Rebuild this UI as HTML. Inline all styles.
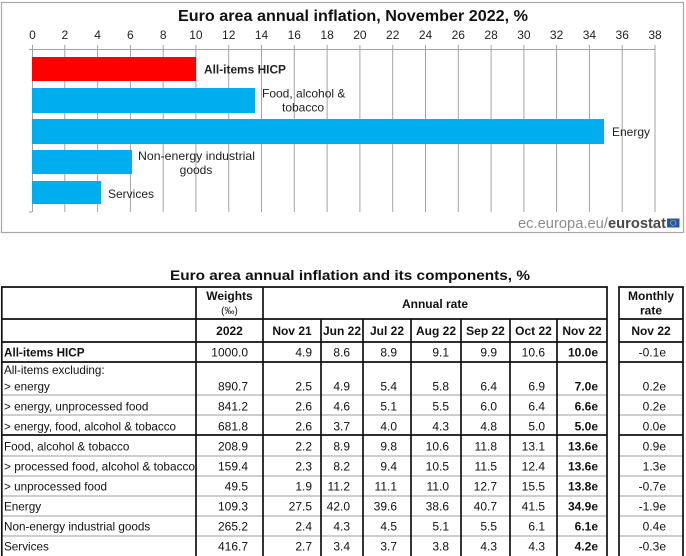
<!DOCTYPE html>
<html><head><meta charset="utf-8"><style>
html,body{margin:0;padding:0;background:#fff;width:686px;height:556px;overflow:hidden}
svg{display:block}
text{font-family:"Liberation Sans",Arial,sans-serif}
</style></head><body>
<svg width="686" height="556" viewBox="0 0 686 556" xmlns="http://www.w3.org/2000/svg">
<rect x="0" y="0" width="686" height="556" fill="#fff"/>
<!-- chart frame -->
<rect x="1.5" y="2.5" width="682" height="230" fill="#fff" stroke="#a8a8a8" stroke-width="1.2"/>
<text x="353" y="21" font-size="16" font-weight="bold" text-anchor="middle" fill="#111" textLength="350" lengthAdjust="spacingAndGlyphs">Euro area annual inflation, November 2022, %</text>
<!-- gridlines -->
<g stroke="#a3a3a3" stroke-width="1">
<line x1="32.5" y1="45" x2="32.5" y2="212"/>
<line x1="64.8" y1="45" x2="64.8" y2="212"/>
<line x1="97.6" y1="45" x2="97.6" y2="212"/>
<line x1="130.4" y1="45" x2="130.4" y2="212"/>
<line x1="163.2" y1="45" x2="163.2" y2="212"/>
<line x1="195.9" y1="45" x2="195.9" y2="212"/>
<line x1="228.7" y1="45" x2="228.7" y2="212"/>
<line x1="261.5" y1="45" x2="261.5" y2="212"/>
<line x1="294.3" y1="45" x2="294.3" y2="212"/>
<line x1="327.1" y1="45" x2="327.1" y2="212"/>
<line x1="359.9" y1="45" x2="359.9" y2="212"/>
<line x1="392.7" y1="45" x2="392.7" y2="212"/>
<line x1="425.5" y1="45" x2="425.5" y2="212"/>
<line x1="458.3" y1="45" x2="458.3" y2="212"/>
<line x1="491.1" y1="45" x2="491.1" y2="212"/>
<line x1="523.9" y1="45" x2="523.9" y2="212"/>
<line x1="556.6" y1="45" x2="556.6" y2="212"/>
<line x1="589.4" y1="45" x2="589.4" y2="212"/>
<line x1="622.2" y1="45" x2="622.2" y2="212"/>
<line x1="655.0" y1="45" x2="655.0" y2="212"/>
<line x1="32" y1="49.5" x2="655" y2="49.5"/>
<line x1="29" y1="212" x2="32" y2="212"/>
<line x1="29" y1="49.5" x2="32" y2="49.5"/>
</g>
<!-- tick labels -->
<g font-size="12" fill="#222" text-anchor="middle">
<text x="32.5" y="39">0</text>
<text x="64.8" y="39">2</text>
<text x="97.6" y="39">4</text>
<text x="130.4" y="39">6</text>
<text x="163.2" y="39">8</text>
<text x="195.9" y="39">10</text>
<text x="228.7" y="39">12</text>
<text x="261.5" y="39">14</text>
<text x="294.3" y="39">16</text>
<text x="327.1" y="39">18</text>
<text x="359.9" y="39">20</text>
<text x="392.7" y="39">22</text>
<text x="425.5" y="39">24</text>
<text x="458.3" y="39">26</text>
<text x="491.1" y="39">28</text>
<text x="523.9" y="39">30</text>
<text x="556.6" y="39">32</text>
<text x="589.4" y="39">34</text>
<text x="622.2" y="39">36</text>
<text x="655.0" y="39">38</text>
</g>
<!-- bars -->
<rect x="32" y="57" width="164" height="24" fill="#ff0000"/>
<rect x="32" y="88" width="223" height="25" fill="#00aeef"/>
<rect x="32" y="119" width="572" height="25" fill="#00aeef"/>
<rect x="32" y="150" width="100" height="24" fill="#00aeef"/>
<rect x="32" y="181" width="69" height="23" fill="#00aeef"/>
<!-- bar labels -->
<g font-size="12" fill="#222">
<text x="204" y="73.5" font-weight="bold" textLength="82" lengthAdjust="spacingAndGlyphs">All-items HICP</text>
<text x="262" y="97.5">Food, alcohol &amp;</text>
<text x="303" y="111.5" text-anchor="middle">tobacco</text>
<text x="612" y="136">Energy</text>
<text x="196.5" y="160" text-anchor="middle" textLength="117" lengthAdjust="spacingAndGlyphs">Non-energy industrial</text>
<text x="196" y="174" text-anchor="middle">goods</text>
<text x="108" y="198">Services</text>
</g>
<!-- eurostat -->
<text x="518" y="228" font-size="14.5" textLength="148" lengthAdjust="spacingAndGlyphs"><tspan fill="#8c8c8c">ec.europa.eu/</tspan><tspan fill="#4a4a4a" font-weight="bold">eurostat</tspan></text>
<rect x="667" y="218.5" width="12.5" height="9" fill="#2857a4"/>
<circle cx="673.2" cy="223" r="2.6" fill="none" stroke="#e8d84a" stroke-width="0.8" stroke-dasharray="0.8 0.6"/>

<!-- table title -->
<text x="350" y="280" font-size="14" font-weight="bold" text-anchor="middle" fill="#111" textLength="360" lengthAdjust="spacingAndGlyphs">Euro area annual inflation and its components, %</text>

<!-- table gray lines -->
<g stroke="#bdbdbd" stroke-width="1.6">
<line x1="1" y1="395" x2="607" y2="395"/>
<line x1="1" y1="415" x2="607" y2="415"/>
<line x1="1" y1="456" x2="607" y2="456"/>
<line x1="1" y1="476" x2="607" y2="476"/>
<line x1="1" y1="496" x2="607" y2="496"/>
<line x1="1" y1="516" x2="607" y2="516"/>
<line x1="1" y1="536" x2="607" y2="536"/>
<line x1="619" y1="395" x2="683" y2="395"/>
<line x1="619" y1="415" x2="683" y2="415"/>
<line x1="619" y1="456" x2="683" y2="456"/>
<line x1="619" y1="476" x2="683" y2="476"/>
<line x1="619" y1="496" x2="683" y2="496"/>
<line x1="619" y1="516" x2="683" y2="516"/>
<line x1="619" y1="536" x2="683" y2="536"/>
</g>
<!-- table black lines -->
<g stroke="#111" stroke-width="1.7">
<line x1="1" y1="287" x2="607.8" y2="287"/>
<line x1="1" y1="319" x2="607" y2="319"/>
<line x1="1" y1="342" x2="607" y2="342"/>
<line x1="1" y1="362" x2="607" y2="362"/>
<line x1="1" y1="435" x2="607" y2="435"/>
<line x1="1.8" y1="287" x2="1.8" y2="556"/>
<line x1="607" y1="287" x2="607" y2="556"/>
<line x1="196" y1="287" x2="196" y2="556"/>
<line x1="263" y1="287" x2="263" y2="556"/>
<line x1="321" y1="319" x2="321" y2="556"/>
<line x1="363" y1="319" x2="363" y2="556"/>
<line x1="411" y1="319" x2="411" y2="556"/>
<line x1="461" y1="319" x2="461" y2="556"/>
<line x1="510" y1="319" x2="510" y2="556"/>
<line x1="557" y1="319" x2="557" y2="556"/>
<line x1="618.2" y1="287" x2="683.8" y2="287"/>
<line x1="619" y1="319" x2="683" y2="319"/>
<line x1="619" y1="342" x2="683" y2="342"/>
<line x1="619" y1="362" x2="683" y2="362"/>
<line x1="619" y1="435" x2="683" y2="435"/>
<line x1="619" y1="287" x2="619" y2="556"/>
<line x1="683" y1="287" x2="683" y2="556"/>
</g>

<!-- headers -->
<g font-size="12" font-weight="bold" fill="#111" text-anchor="middle">
<text x="229.5" y="300">Weights</text>
<text x="229.5" y="314" font-size="10" font-weight="normal">(‰)</text>
<text x="435" y="308">Annual rate</text>
<text x="651" y="300">Monthly</text>
<text x="651" y="314.5">rate</text>
<text x="229.5" y="335">2022</text>
<text x="292" y="335">Nov 21</text>
<text x="342" y="335">Jun 22</text>
<text x="387" y="335">Jul 22</text>
<text x="436" y="335">Aug 22</text>
<text x="485.5" y="335">Sep 22</text>
<text x="533.5" y="335">Oct 22</text>
<text x="582" y="335">Nov 22</text>
<text x="651" y="335">Nov 22</text>
</g>

<!-- row labels -->
<g font-size="11.7" fill="#111">
<text x="4" y="356.5" font-weight="bold">All-items HICP</text>
<text x="4" y="374">All-items excluding:</text>
<text x="4" y="390.5">&gt; energy</text>
<text x="4" y="410.5">&gt; energy, unprocessed food</text>
<text x="4" y="430.5" textLength="172" lengthAdjust="spacingAndGlyphs">&gt; energy, food, alcohol &amp; tobacco</text>
<text x="4" y="450.5">Food, alcohol &amp; tobacco</text>
<text x="4" y="470.5" textLength="191" lengthAdjust="spacingAndGlyphs">&gt; processed food, alcohol &amp; tobacco</text>
<text x="4" y="490.5">&gt; unprocessed food</text>
<text x="4" y="510.5">Energy</text>
<text x="4" y="530.5">Non-energy industrial goods</text>
<text x="4" y="550.5">Services</text>
</g>

<!-- numbers -->
<g font-size="12" fill="#111" text-anchor="end">
<text x="248" y="356.5">1000.0</text>
<text x="248" y="390.5">890.7</text>
<text x="248" y="410.5">841.2</text>
<text x="248" y="430.5">681.8</text>
<text x="248" y="450.5">208.9</text>
<text x="248" y="470.5">159.4</text>
<text x="248" y="490.5">49.5</text>
<text x="248" y="510.5">109.3</text>
<text x="248" y="530.5">265.2</text>
<text x="248" y="550.5">416.7</text>
<text x="312" y="356.5">4.9</text>
<text x="312" y="390.5">2.5</text>
<text x="312" y="410.5">2.6</text>
<text x="312" y="430.5">2.6</text>
<text x="312" y="450.5">2.2</text>
<text x="312" y="470.5">2.3</text>
<text x="312" y="490.5">1.9</text>
<text x="312" y="510.5">27.5</text>
<text x="312" y="530.5">2.4</text>
<text x="312" y="550.5">2.7</text>
<text x="350" y="356.5">8.6</text>
<text x="350" y="390.5">4.9</text>
<text x="350" y="410.5">4.6</text>
<text x="350" y="430.5">3.7</text>
<text x="350" y="450.5">8.9</text>
<text x="350" y="470.5">8.2</text>
<text x="350" y="490.5">11.2</text>
<text x="350" y="510.5">42.0</text>
<text x="350" y="530.5">4.3</text>
<text x="350" y="550.5">3.4</text>
<text x="397" y="356.5">8.9</text>
<text x="397" y="390.5">5.4</text>
<text x="397" y="410.5">5.1</text>
<text x="397" y="430.5">4.0</text>
<text x="397" y="450.5">9.8</text>
<text x="397" y="470.5">9.4</text>
<text x="397" y="490.5">11.1</text>
<text x="397" y="510.5">39.6</text>
<text x="397" y="530.5">4.5</text>
<text x="397" y="550.5">3.7</text>
<text x="449" y="356.5">9.1</text>
<text x="449" y="390.5">5.8</text>
<text x="449" y="410.5">5.5</text>
<text x="449" y="430.5">4.3</text>
<text x="449" y="450.5">10.6</text>
<text x="449" y="470.5">10.5</text>
<text x="449" y="490.5">11.0</text>
<text x="449" y="510.5">38.6</text>
<text x="449" y="530.5">5.1</text>
<text x="449" y="550.5">3.8</text>
<text x="497" y="356.5">9.9</text>
<text x="497" y="390.5">6.4</text>
<text x="497" y="410.5">6.0</text>
<text x="497" y="430.5">4.8</text>
<text x="497" y="450.5">11.8</text>
<text x="497" y="470.5">11.5</text>
<text x="497" y="490.5">12.7</text>
<text x="497" y="510.5">40.7</text>
<text x="497" y="530.5">5.5</text>
<text x="497" y="550.5">4.3</text>
<text x="545" y="356.5">10.6</text>
<text x="545" y="390.5">6.9</text>
<text x="545" y="410.5">6.4</text>
<text x="545" y="430.5">5.0</text>
<text x="545" y="450.5">13.1</text>
<text x="545" y="470.5">12.4</text>
<text x="545" y="490.5">15.5</text>
<text x="545" y="510.5">41.5</text>
<text x="545" y="530.5">6.1</text>
<text x="545" y="550.5">4.3</text>
<text x="666" y="356.5">-0.1e</text>
<text x="666" y="390.5">0.2e</text>
<text x="666" y="410.5">0.2e</text>
<text x="666" y="430.5">0.0e</text>
<text x="666" y="450.5">0.9e</text>
<text x="666" y="470.5">1.3e</text>
<text x="666" y="490.5">-0.7e</text>
<text x="666" y="510.5">-1.9e</text>
<text x="666" y="530.5">0.4e</text>
<text x="666" y="550.5">-0.3e</text>
</g>
<g font-size="12" font-weight="bold" fill="#111" text-anchor="end">
<text x="598" y="356.5">10.0e</text>
<text x="598" y="390.5">7.0e</text>
<text x="598" y="410.5">6.6e</text>
<text x="598" y="430.5">5.0e</text>
<text x="598" y="450.5">13.6e</text>
<text x="598" y="470.5">13.6e</text>
<text x="598" y="490.5">13.8e</text>
<text x="598" y="510.5">34.9e</text>
<text x="598" y="530.5">6.1e</text>
<text x="598" y="550.5">4.2e</text>
</g>
</svg>
</body></html>
